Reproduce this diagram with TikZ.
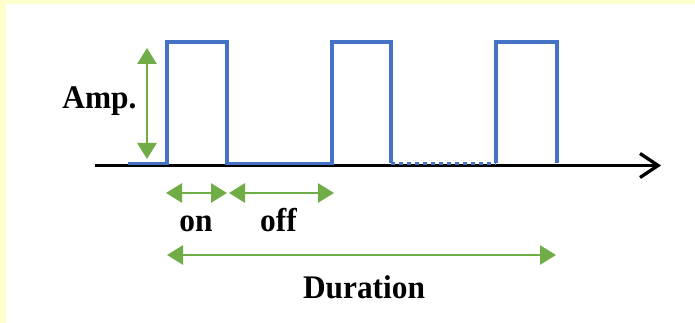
\documentclass[tikz,border=0pt]{standalone}
\usepackage{fontspec}
\setmainfont{Liberation Serif}
\usetikzlibrary{arrows.meta}
\definecolor{pulseblue}{HTML}{4472C4}
\definecolor{measgreen}{HTML}{70AD47}
\definecolor{paneyellow}{HTML}{FFFFCC}
\newcommand{\lbltext}[1]{\scalebox{0.95}[1]{#1}}
\tikzset{
  pulse/.style={draw=pulseblue, line width=3.5pt, line join=miter},
  meas/.style={draw=measgreen, line width=2.8pt,
    {Triangle[length=16pt,width=19pt]}-{Triangle[length=16pt,width=19pt]}},
  axisline/.style={draw=black, line width=3.3pt,
    -{Straight Barb[length=18pt,width=24pt,line width=3.3pt]}},
  lbl/.style={font=\fontsize{33}{36}\selectfont\bfseries, anchor=base, inner sep=0pt}
}
\begin{document}
\begin{tikzpicture}[x=1pt,y=-1pt]
  % frame: pale yellow margin on top and left, white panel
  \fill[paneyellow] (0,0) rectangle (695,323);
  \fill[white] (6,4) rectangle (695,323);
  \useasboundingbox (0,0) rectangle (695,323);

  % time axis
  \coordinate (ax0) at (95,165.5);
  \coordinate (ax1) at (661,165.5);
  \draw[axisline] (ax0) -- (ax1);

  % pulse train
  \draw[pulse] (128,163.5) -- (167,163.5) -- (167,42) -- (227,42) -- (227,163.5)
    -- (332,163.5) -- (332,42) -- (391,42) -- (391,163.5);
  \draw[pulseblue, line width=3.5pt, dash pattern=on 4pt off 4pt] (391,163.5) -- (496,163.5);
  \draw[pulse] (496,163.5) -- (496,42) -- (557,42) -- (557,163.5);

  % amplitude
  \coordinate (ampT) at (147,48);
  \coordinate (ampB) at (147,159);
  \draw[meas] (ampT) -- (ampB);
  \node[lbl] (amp) at (99.5,109) {\lbltext{Amp.}};

  % on / off times
  \coordinate (on0) at (166,193);
  \coordinate (on1) at (227,193);
  \coordinate (off0) at (229,193);
  \coordinate (off1) at (334,193);
  \draw[meas] (on0) -- (on1);
  \draw[meas] (off0) -- (off1);
  \node[lbl] (on) at (196,231) {\lbltext{on}};
  \node[lbl] (off) at (278.5,231) {\lbltext{off}};

  % total duration
  \coordinate (du0) at (167,255);
  \coordinate (du1) at (556,255);
  \draw[meas] (du0) -- (du1);
  \node[lbl] (dur) at (364,298) {\lbltext{Duration}};
\end{tikzpicture}
\end{document}
